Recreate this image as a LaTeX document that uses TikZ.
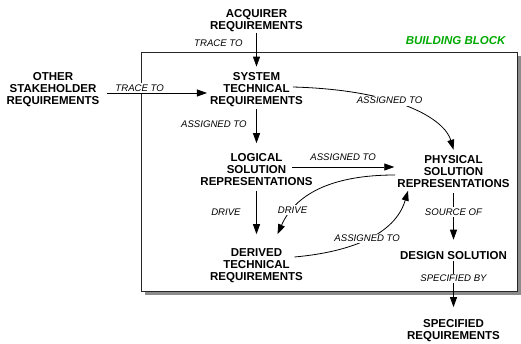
\documentclass[tikz,border=0pt]{standalone}
\usepackage{fontspec}
\setmainfont{Liberation Sans}
\usepackage{tikz}
\usetikzlibrary{arrows.meta, positioning, calc}
\definecolor{blockgreen}{RGB}{0,170,0}
\definecolor{shadowgray}{RGB}{140,140,140}

\begin{document}
\begin{tikzpicture}[x=1pt, y=-1pt,
    req/.style={align=center, inner sep=3pt, font=\fontsize{11.5}{12}\selectfont\bfseries},
    rel/.style={fill=white, inner sep=1.5pt, font=\fontsize{9.6}{11}\selectfont\itshape},
    link/.style={line width=0.8pt, -{Triangle[length=10pt, width=7pt]}}
]
    \useasboundingbox (0,0) rectangle (521,344);

    % Building block frame
    \fill[shadowgray] (145,56) rectangle (521,295);
    \draw[fill=white, line width=0.9pt, draw=black!85] (141,52) rectangle (517,291);
    \node[anchor=east, text=blockgreen, font=\fontsize{11.5}{12}\selectfont\bfseries\itshape] (bb) at (509,41) {BUILDING BLOCK};

    % Requirements and representations
    \node[req] (acq) at (256.5,20.5) {ACQUIRER\\REQUIREMENTS};
    \node[req] (other) at (53,89.5) {OTHER\\STAKEHOLDER\\REQUIREMENTS};
    \node[req] (sys) at (256.5,89.5) {SYSTEM\\TECHNICAL\\REQUIREMENTS};
    \node[req] (logic) at (256.5,169.5) {LOGICAL\\SOLUTION\\REPRESENTATIONS};
    \node[req] (phys) at (453.5,171.5) {PHYSICAL\\SOLUTION\\REPRESENTATIONS};
    \node[req] (derived) at (256.5,265.5) {DERIVED\\TECHNICAL\\REQUIREMENTS};
    \node[req] (design) at (453.5,255.5) {DESIGN SOLUTION};
    \node[req] (spec) at (453.5,330.5) {SPECIFIED\\REQUIREMENTS};

    % Trace links
    \draw[link] ([yshift=2pt]acq.south) -- node[rel, left=12pt, pos=0.31] {TRACE TO} ([yshift=2.5pt]sys.north);
    \draw[link] ([shift={(4pt,-3.5pt)}]other.east) -- node[rel, above, pos=0.33] {TRACE TO} ([yshift=-3.5pt]sys.west);

    % Allocation links
    \draw[link] ([yshift=1pt]sys.south) -- node[rel, left=8pt, pos=0.45] {ASSIGNED TO} ([yshift=7pt]logic.north);
    \draw[link] ([shift={(36.5pt,2.5pt)}]sys.center) .. controls (400,90) and (445,120) .. ([yshift=2.5pt]phys.north) node[rel, pos=0.38] {ASSIGNED TO};
    \draw[link] ([shift={(35.5pt,2.5pt)}]logic.center) -- node[rel, above=5pt] {ASSIGNED TO} ([yshift=4.5pt]phys.west);
    \draw[link] ([shift={(38pt,8.5pt)}]derived.center) .. controls (350,252) and (395,235) .. ([xshift=-45.5pt]phys.south) node[rel, pos=0.5] {ASSIGNED TO};

    % Drive links
    \draw[link] ([yshift=-2pt]logic.south) -- node[rel, left=14pt] {DRIVE} ([yshift=11pt]derived.north);
    \draw[link] ([shift={(-58.5pt,-3.5pt)}]phys.center) .. controls (330,175) and (295,195) .. ([shift={(21pt,11pt)}]derived.north) node[rel, pos=0.77] {DRIVE};

    % Design solution
    \draw[link] ([yshift=-2.5pt]phys.south) -- node[rel, pos=0.4] {SOURCE OF} ([yshift=8.5pt]design.north);
    \draw[link] ([yshift=1.5pt]design.south) -- node[rel, pos=0.375] {SPECIFIED BY} ([yshift=9pt]spec.north);
\end{tikzpicture}
\end{document}
